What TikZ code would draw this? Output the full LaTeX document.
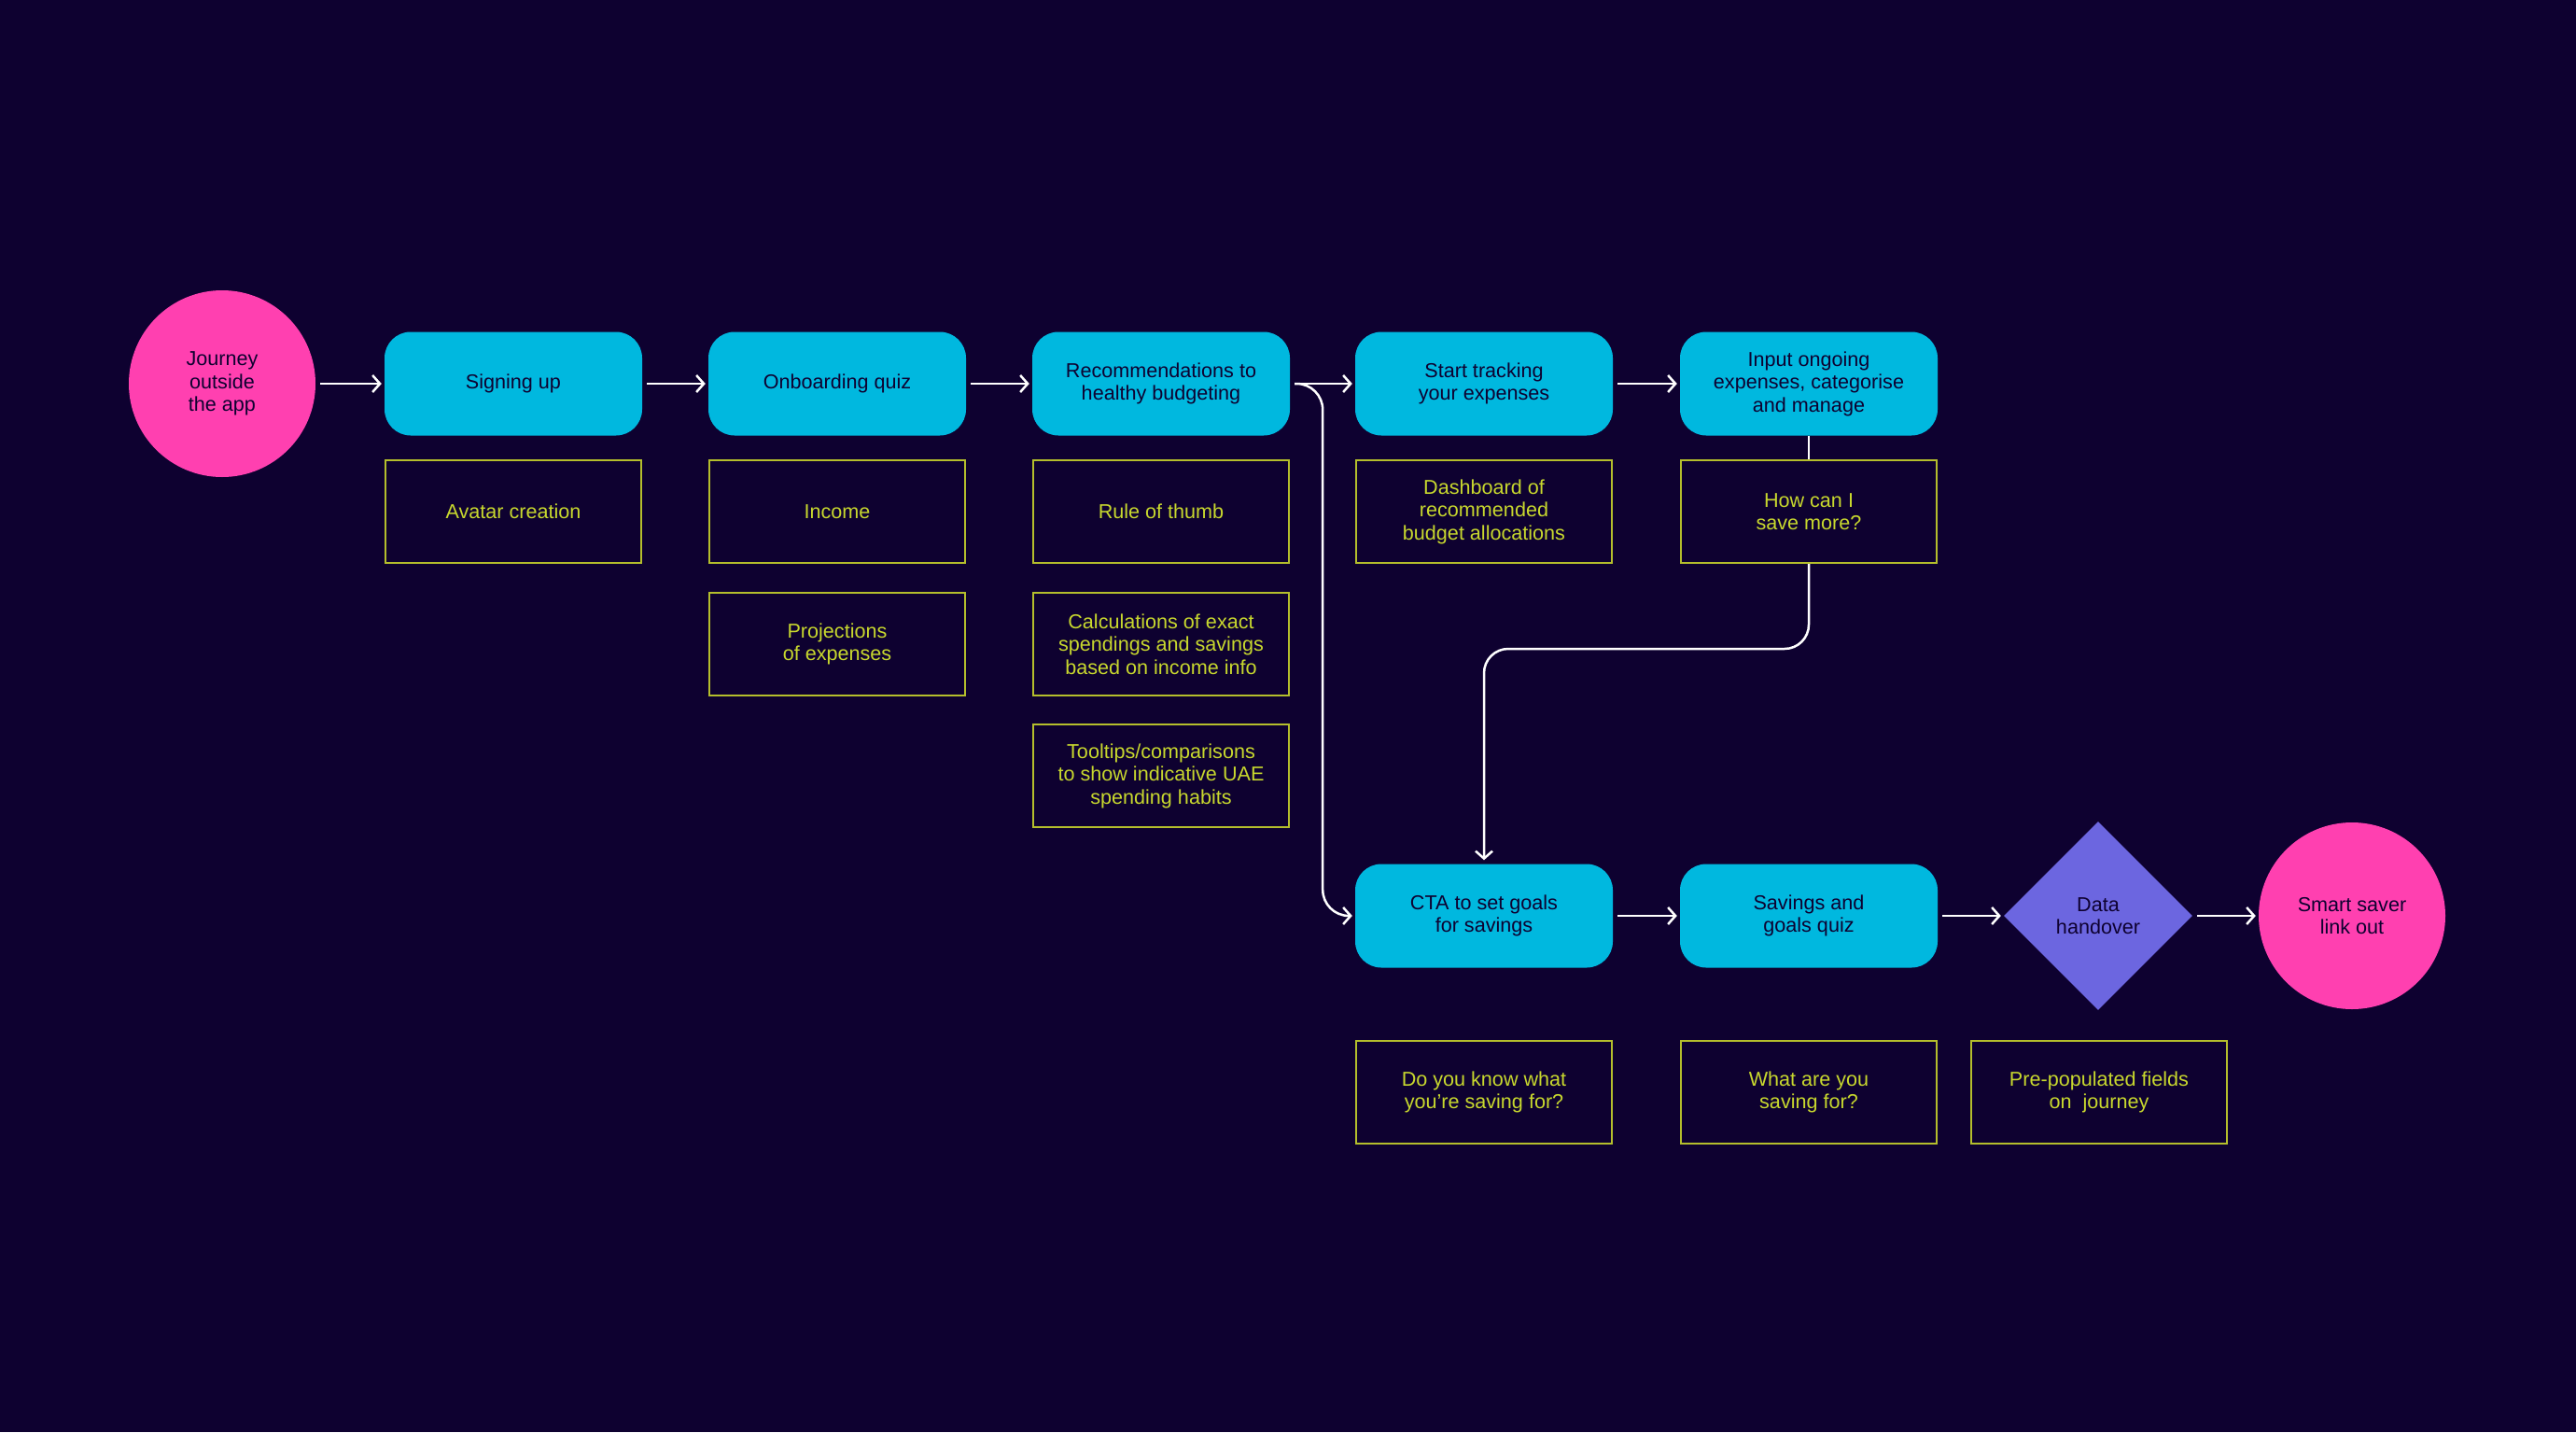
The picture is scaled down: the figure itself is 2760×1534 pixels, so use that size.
\documentclass[tikz,border=0pt]{standalone}
\usepackage{fontspec}
\setmainfont{Liberation Sans}
\usetikzlibrary{shapes.geometric,arrows.meta}
\definecolor{bg}{HTML}{0E0130}
\definecolor{cyanc}{HTML}{00B8DF}
\definecolor{pinkc}{HTML}{FF40B0}
\definecolor{purp}{HTML}{6C66E0}
\definecolor{notet}{HTML}{C8D82E}
\definecolor{noteb}{HTML}{B4BE2C}
\begin{document}
\begin{tikzpicture}[x=1pt,y=-1pt,
  txt/.style={align=center, font=\fontsize{21.6}{24.5}\selectfont},
  proc/.style={txt, rectangle, rounded corners=28pt, fill=cyanc, minimum width=276pt, minimum height=111pt, text=bg, inner sep=0pt},
  note/.style={txt, rectangle, draw=noteb, line width=2pt, minimum width=274pt, minimum height=110pt, text=notet, inner sep=0pt},
  term/.style={txt, circle, fill=pinkc, minimum size=200pt, text=bg, inner sep=0pt},
  dec/.style={txt, diamond, aspect=1, fill=purp, minimum width=202pt, minimum height=202pt, text=bg, inner sep=0pt},
  ln/.style={draw=white, line width=2.5pt},
  arr/.style={ln, -{Straight Barb[length=8pt,width=18pt,line width=2.5pt]}}
]
\fill[bg] (0,0) rectangle (2760,1534);
\useasboundingbox (0,0) rectangle (2760,1534);

\node[term] (j) at (238,411) {Journey\\outside\\the app};
\node[proc] (s) at (550,411) {Signing up};
\node[proc] (o) at (897,411) {Onboarding quiz};
\node[proc] (r) at (1244,411) {Recommendations to\\healthy budgeting};
\node[proc] (t) at (1590,411) {Start tracking\\your expenses};
\node[proc] (i) at (1938,411) {Input ongoing\\expenses, categorise\\and manage};

\node[note] (a) at (550,548) {Avatar creation};
\node[note] (inc) at (897,548) {Income};
\node[note] (pr) at (897,690) {Projections\\of expenses};
\node[note] (rt) at (1244,548) {Rule of thumb};
\node[note] (calc) at (1244,690) {Calculations of exact\\spendings and savings\\based on income info};
\node[note] (tt) at (1244,831) {Tooltips/comparisons\\to show indicative UAE\\spending habits};
\node[note] (d) at (1590,548) {Dashboard of\\recommended\\budget allocations};
\node[note] (h) at (1938,548) {How can I\\save more?};

\node[proc] (c) at (1590,981) {CTA to set goals\\for savings};
\node[proc] (sg) at (1938,981) {Savings and\\goals quiz};
\node[dec] (dh) at (2248,981) {Data\\handover};
\node[term] (ss) at (2520,981) {Smart saver\\link out};

\node[note] (q1) at (1590,1170) {Do you know what\\you’re saving for?};
\node[note] (q2) at (1938,1170) {What are you\\saving for?};
\node[note] (q3) at (2249,1170) {Pre-populated fields\\on~ journey};

\draw[arr] ([xshift=5pt]j.east) -- ([xshift=-3pt]s.west);
\draw[arr] ([xshift=5pt]s.east) -- ([xshift=-3pt]o.west);
\draw[arr] ([xshift=5pt]o.east) -- ([xshift=-3pt]r.west);
\draw[arr] ([xshift=5pt]r.east) -- ([xshift=-3pt]t.west);
\draw[arr] ([xshift=5pt]t.east) -- ([xshift=-3pt]i.west);
\draw[arr, rounded corners=28pt] ([xshift=5pt]r.east) -- ([xshift=35pt]r.east) |- ([xshift=-3pt]c.west);
\draw[ln] (i.south) -- (h.north);
\draw[arr, rounded corners=26pt] (h.south) -- ++(0,91) -| ([yshift=4pt]c.north);
\draw[arr] ([xshift=5pt]c.east) -- ([xshift=-3pt]sg.west);
\draw[arr] ([xshift=5pt]sg.east) -- ([xshift=-3pt]dh.west);
\draw[arr] ([xshift=5pt]dh.east) -- ([xshift=-3pt]ss.west);
\end{tikzpicture}
\end{document}
